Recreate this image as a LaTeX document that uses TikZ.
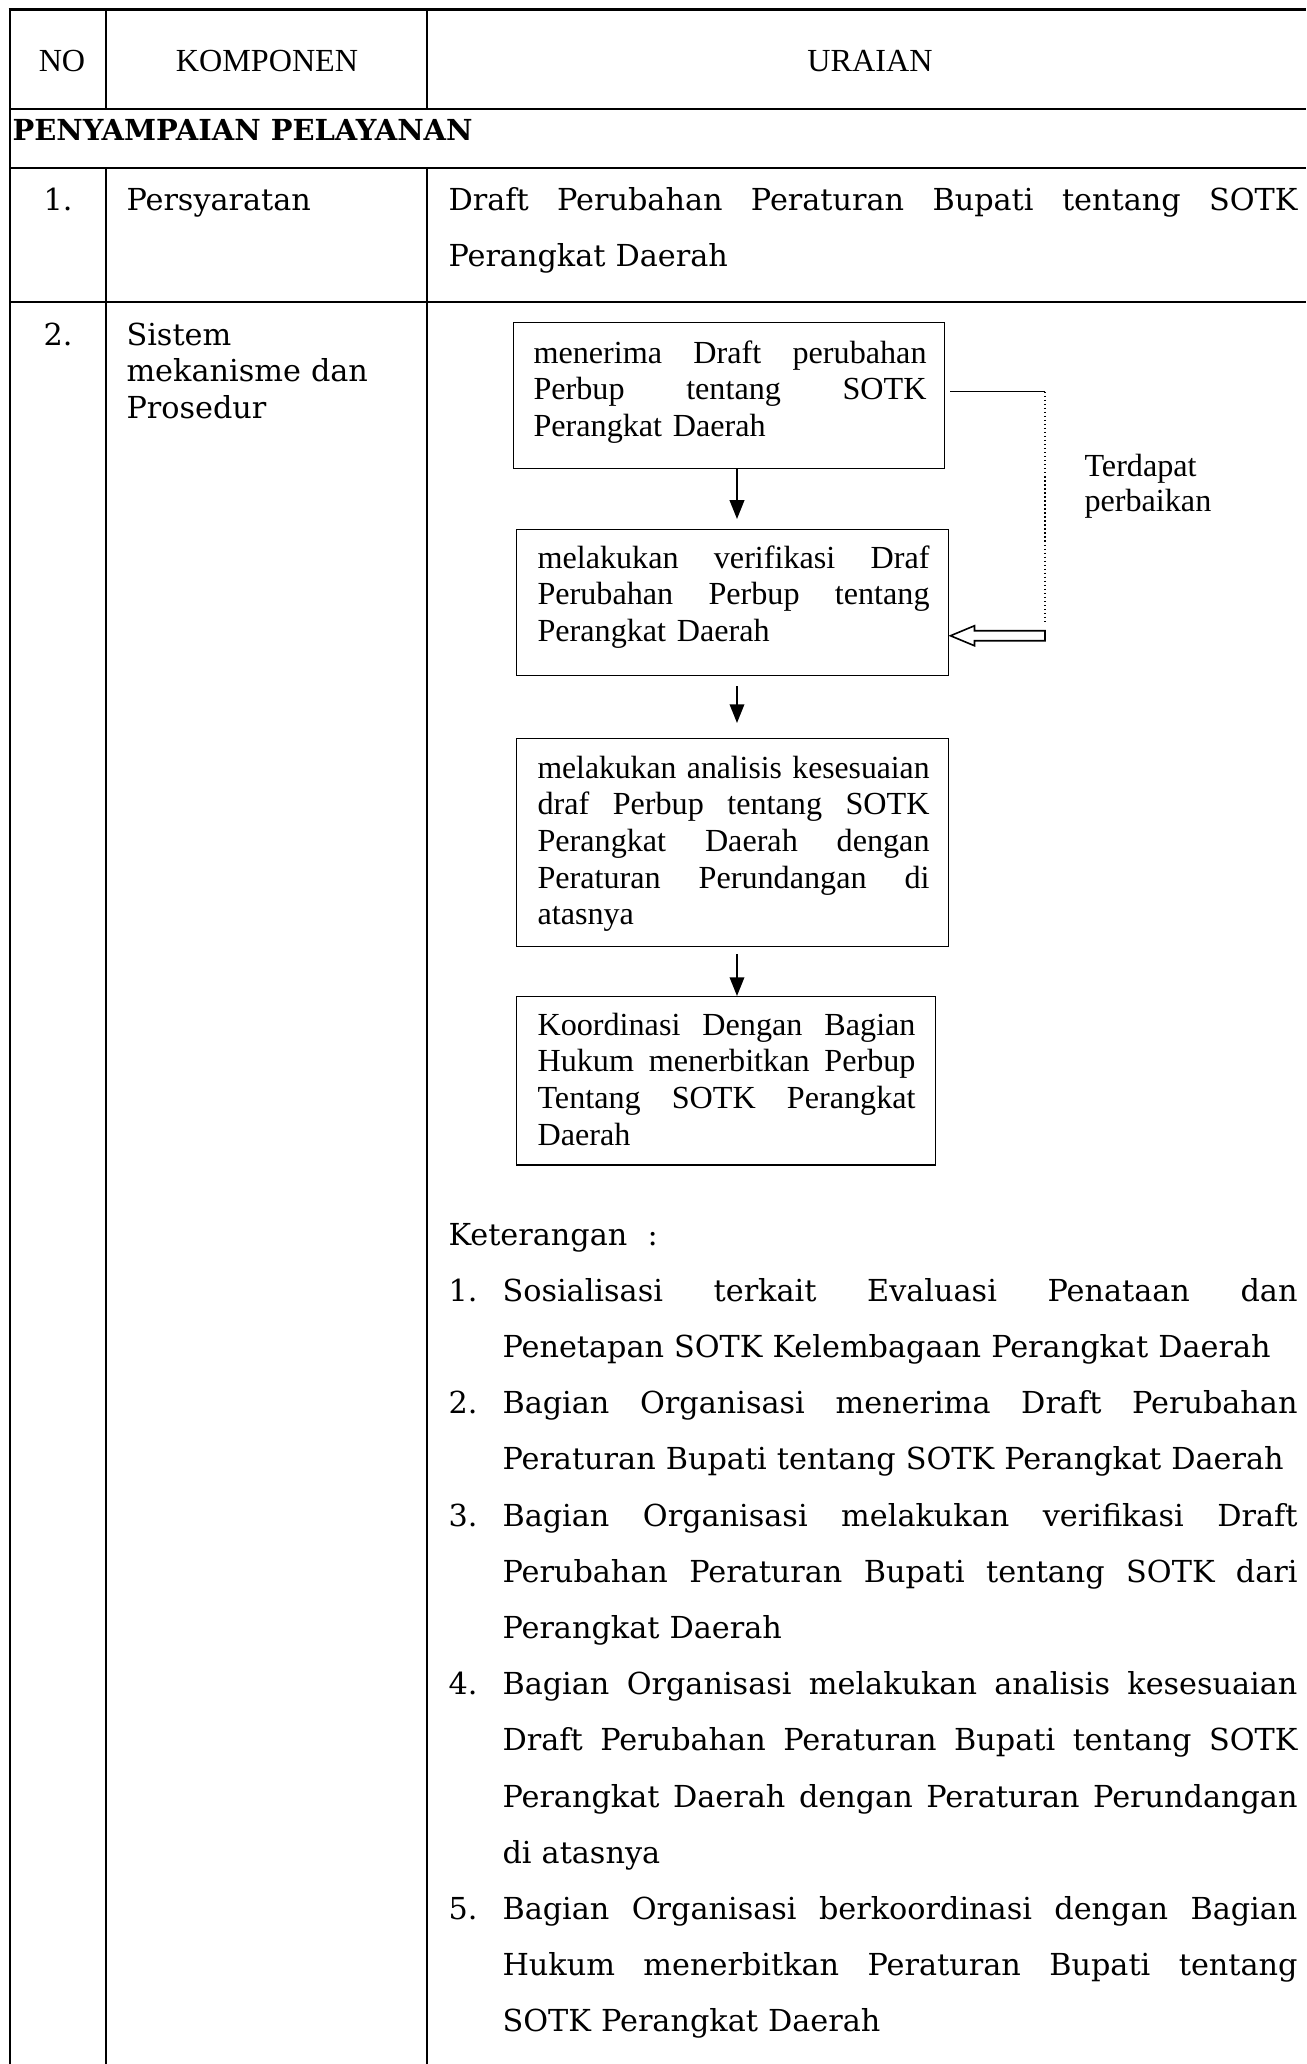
\documentclass[tikz,border=0pt]{standalone}
\usepackage{fontspec}
\usepackage{graphicx}
\setmainfont{DejaVu Serif}
\newfontfamily\tnr{Liberation Serif}
\newfontfamily\bkm{DejaVu Serif}
\usetikzlibrary{arrows.meta,calc}

% one justified line: spaces stretched to the full width \jlw,
% squeezed horizontally if the words are too long
\newlength\jlw
\newlength\jlht
\newcommand\jl[1]{\leavevmode\sbox0{#1}\ifdim\wd0>\jlw\relax
  \setlength\jlht{\ht0}\resizebox{\jlw}{\jlht}{#1}%
  \else\hbox to\jlw{\spaceskip=\fontdimen2\font plus 1fil\relax #1}\fi}

\tikzset{
  grid/.style={line width=1.1pt},
  flowbox/.style={draw, line width=0.55pt, anchor=north west, inner sep=0pt},
  boxtext/.style={anchor=base west, inner sep=0pt, text width=#1, align=left,
    execute at begin node={\setlength\jlw{#1}},
    font=\tnr\fontsize{12pt}{13.7pt}\selectfont},
  bodytext/.style={anchor=base west, inner sep=0pt, text width=#1, align=left,
    execute at begin node={\setlength\jlw{#1}},
    font=\bkm\fontsize{11.3pt}{20.97pt}\selectfont},
  bodyword/.style={anchor=base west, inner sep=0pt, font=\bkm\fontsize{11.3pt}{13.8pt}\selectfont},
  hdr/.style={anchor=base, inner sep=0pt, font=\tnr\fontsize{12pt}{14pt}\selectfont},
  flowarrow/.style={line width=0.8pt, -{Triangle[length=7pt,width=5.4pt]}},
  thinline/.style={line width=0.55pt},
}

\begin{document}
\begin{tikzpicture}[x=0.37313pt, y=-0.37313pt]
\fill[white] (0,0) rectangle (1306,2064);
\useasboundingbox (0,0) rectangle (1306,2064);

% ---- table rules ----
\draw[grid] (8.5,9.5) -- (1306,9.5);
\draw[grid] (10,8) -- (10,2064);
\draw[grid] (106,9.5) -- (106,109);
\draw[grid] (427,9.5) -- (427,109);
\draw[grid] (10,109) -- (1306,109);
\draw[grid] (10,168) -- (1306,168);
\draw[grid] (10,302) -- (1306,302);
\draw[grid] (106,168) -- (106,2064);
\draw[grid] (427,168) -- (427,2064);

% ---- header ----
\node[hdr] (hno) at (62,71) {NO};
\node[hdr] (hkomp) at (267,71) {KOMPONEN};
\node[hdr] (hur) at (870,71) {URAIAN};

\node[anchor=base west, inner sep=0pt, font=\bkm\bfseries\fontsize{10.8pt}{12pt}\selectfont] (sect) at (12,140) {PENYAMPAIAN PELAYANAN};

% ---- row 1 ----
\node[bodyword, anchor=base] (n1) at (58,210) {1.};
\node[bodyword] (k1) at (126,210) {Persyaratan};
\node[bodytext=316.79pt] (u1) at (448,210) {\jl{Draft Perubahan Peraturan Bupati tentang SOTK}\\Perangkat Daerah};

% ---- row 2 ----
\node[bodyword, anchor=base] (n2) at (58,345) {2.};
\node[bodyword, text width=110pt, align=left] (k2) at (126,345) {Sistem\\mekanisme dan\\Prosedur};

% ---- flow chart ----
\node[flowbox, minimum width=160.82pt, minimum height=54.48pt] (b1) at (513,322) {};
\node[flowbox, minimum width=161.19pt, minimum height=54.48pt] (b2) at (516,529) {};
\node[flowbox, minimum width=161.19pt, minimum height=77.61pt] (b3) at (516,738) {};
\node[flowbox, minimum width=156.34pt, minimum height=62.69pt] (b4) at (516,996) {};

\node[boxtext=146.64pt] (t1) at (533,363) {\jl{menerima Draft perubahan}\\\jl{Perbup tentang SOTK}\\Perangkat Daerah};
\node[boxtext=146.27pt] (t2) at (537,568) {\jl{melakukan verifikasi Draf}\\\jl{Perubahan Perbup tentang}\\Perangkat Daerah};
\node[boxtext=146.27pt] (t3) at (537,778) {\jl{melakukan analisis kesesuaian}\\\jl{draf Perbup tentang SOTK}\\\jl{Perangkat Daerah dengan}\\\jl{Peraturan Perundangan di}\\atasnya};
\node[boxtext=141.04pt] (t4) at (537,1035) {\jl{Koordinasi Dengan Bagian}\\\jl{Hukum menerbitkan Perbup}\\\jl{Tentang SOTK Perangkat}\\Daerah};

\coordinate (ax) at (737,0);
\draw[flowarrow] (b1.south -| ax) -- ($(b2.north -| ax)+(0,-10)$);
\draw[flowarrow] ($(b2.south -| ax)+(0,10)$) -- ($(b3.north -| ax)+(0,-15)$);
\draw[flowarrow] ($(b3.south -| ax)+(0,7)$) -- (b4.north -| ax);

% feedback loop for corrections
\coordinate (fx) at (1045,0);
\coordinate (fstart) at ($(b1.east)+(5,-4)$);
\coordinate (fcorner) at (fstart -| fx);
\coordinate (ftip) at ($(b2.east)+(1,33)$);
\coordinate (fend) at (ftip -| fx);
\draw[thinline] (fstart) -- (fcorner);
\draw[line width=0.5pt, densely dotted] (fcorner) -- ($(fend)+(0,-13)$);
\draw[line width=0.6pt, fill=white] (ftip) -- ++(24,-10) -- ++(0,5) -- ($(fend)+(0,-5)$)
  -- ($(fend)+(0,5)$) -- ($(ftip)+(24,5)$) -- ($(ftip)+(24,10)$) -- cycle;
\node[anchor=base west, inner sep=0pt, text width=80pt, align=left,
  font=\tnr\fontsize{12pt}{13.4pt}\selectfont] (fl) at (1084,476) {Terdapat\\perbaikan};

% ---- notes ----
\node[bodytext=296.64pt] (ket) at (448,1245) {Keterangan\ \ :};

\node[bodyword] (m1) at (448,1301.2) {1.};
\node[bodytext=296.64pt] (i1) at (502,1301.2) {\jl{Sosialisasi terkait Evaluasi Penataan dan}\\Penetapan SOTK Kelembagaan Perangkat Daerah};

\node[bodyword] (m2) at (448,1413.6) {2.};
\node[bodytext=296.64pt] (i2) at (502,1413.6) {\jl{Bagian Organisasi menerima Draft Perubahan}\\Peraturan Bupati tentang SOTK Perangkat Daerah};

\node[bodyword] (m3) at (448,1526) {3.};
\node[bodytext=296.64pt] (i3) at (502,1526) {\jl{Bagian Organisasi melakukan verifikasi Draft}\\\jl{Perubahan Peraturan Bupati tentang SOTK dari}\\Perangkat Daerah};

\node[bodyword] (m4) at (448,1694.6) {4.};
\node[bodytext=296.64pt] (i4) at (502,1694.6) {\jl{Bagian Organisasi melakukan analisis kesesuaian}\\\jl{Draft Perubahan Peraturan Bupati tentang SOTK}\\\jl{Perangkat Daerah dengan Peraturan Perundangan}\\di atasnya};

\node[bodyword] (m5) at (448,1919.4) {5.};
\node[bodytext=296.64pt] (i5) at (502,1919.4) {\jl{Bagian Organisasi berkoordinasi dengan Bagian}\\\jl{Hukum menerbitkan Peraturan Bupati tentang}\\SOTK Perangkat Daerah};
\end{tikzpicture}
\end{document}
